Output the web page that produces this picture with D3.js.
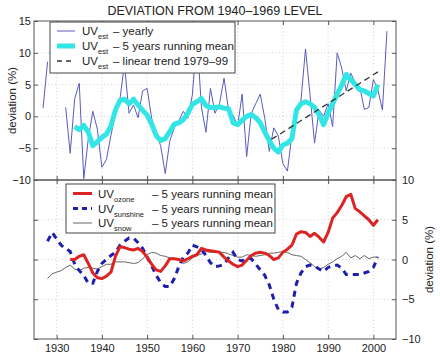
<!DOCTYPE html>
<html>
<head>
<meta charset="utf-8">
<script src="https://cdn.jsdelivr.net/npm/d3@7"></script>
<style>
  body { margin: 0; background: #fff; }
  text { font-family: "Liberation Sans", Arial, sans-serif; fill: #222; }
</style>
</head>
<body>
<div id="chart"></div>
<script>
// x categories
const yearTicks = [1930, 1940, 1950, 1960, 1970, 1980, 1990, 2000];
const topTicks = [-10, -5, 0, 5, 10, 15];
const botTicks = [-10, -5, 0, 5, 10];

// UV_est yearly, 1927..2003 (null = no data)
const yearlyStart = 1927;
const uvYearly = [
  1.3, 8.6, null,
  null, null, 1.4, -5.8, 2.8, 5.2, -9.8, -3.5, 0.8, -2.0,
  -8.0, -6.8, -3.0, 0.5, 2.8, 8.2, 0.5, 1.8, -0.2, 4.0,
  4.4, -0.3, -2.9, -4.6, -9.0, -3.9, -1.8, -0.7, 0.8, -0.3,
  3.4, 12.5, 1.5, -2.5, 4.4, 0.5, 2.0, 6.0, 1.0, 0.2,
  -1.5, 3.5, -6.3, 0.4, 2.0, 3.5, -0.3, -5.5, -1.8, -3.1,
  -7.4, -8.6, -2.9, 0.8, 2.5, 10.6, 3.4, -4.2, 1.0, 0.0,
  2.0, -1.6, 10.0, 7.6, 4.0, 6.8, 5.3, 4.6, 1.1, 1.4,
  5.8, 4.2, 1.0, 13.4
];

// UV_est 5 years running mean, 1934..2001
const meanStart = 1934;
const uvMean = [
  -1.6, -2.1, -1.4, -2.5, -4.6, -4.0,
  -3.3, -2.8, -1.5, 1.0, 2.5, 2.7, 2.0, 2.7, 1.8, 1.0,
  0.2, -1.2, -3.0, -3.8, -3.5, -2.4, -1.2, -1.0, -0.5, 0.5,
  1.9, 2.3, 2.8, 1.7, 1.4, 1.4, 1.5, 1.3, 1.2, -1.0,
  -1.3, -0.6, 0.0, 0.3, -0.2, -1.0, -2.5, -3.8, -5.0, -5.6,
  -4.5, -4.2, -3.5, 1.0, 2.0, 2.3, 2.0, 1.4, 0.3, -1.3,
  0.5, 2.0, 3.5, 4.9, 6.6, 5.8, 5.0, 4.2, 4.0, 3.6,
  3.2, 5.0
];

// linear trend 1979-99 (end points as drawn)
const trendYears = [1977.5, 2001];
const trendValues = [-3.6, 7.0];

// UV_ozone 5 years running mean, 1933..2001
const ozoneStart = 1933;
const uvOzone = [
  0.0, 0.0, 0.4, 0.6, -0.5, -1.7, -2.3,
  -2.4, -2.1, -1.6, 0.4, 1.6, 1.5, 1.3, 1.2, 1.4, 1.0,
  0.3, -0.6, -1.3, -1.5, -0.8, 0.1, 0.1, 0.0, -0.2, 0.1,
  0.4, 0.6, 1.4, 1.2, 1.1, 1.0, 0.9, 0.3, -0.2, -0.6,
  -0.9, -0.7, -0.1, 0.5, 0.8, 0.9, 0.8, 0.5, 0.0, 0.2,
  0.9, 1.3, 1.8, 3.2, 3.5, 3.4, 2.9, 3.3, 2.8, 2.2,
  3.4, 5.2, 5.9, 6.8, 7.9, 8.2, 6.4, 6.0, 5.5, 5.0,
  4.3, 5.0
];

// UV_sunshine 5 years running mean, 1928..2001
const sunStart = 1928;
const uvSunshine = [
  2.3, 3.4,
  2.6, 1.8, 1.4, 1.0, -0.6, -1.4, -2.0, -3.0, -3.0, -1.5,
  -0.5, 0.0, 0.5, 0.9, 1.8, 2.3, 2.7, 2.7, 2.1, 1.4,
  0.3, -0.8, -2.0, -2.9, -3.4, -3.4, -2.4, -0.9, 0.3, 0.8,
  1.8, 1.6, 1.3, 0.5, -0.4, -0.9, -0.8, -0.6, 0.2, 0.9,
  0.0, -0.2, 0.2, 0.1, -0.6, -1.3, -2.0, -3.2, -5.0, -6.3,
  -6.6, -6.6, -6.0, -3.0, -1.7, -0.9, -0.7, -0.8, -1.2, -1.5,
  -1.0, -0.8, -0.7, -1.1, -1.9, -1.9, -1.9, -1.9, -1.7, -1.5,
  -1.0, 0.3
];

// UV_snow 5 years running mean, 1928..2001
const snowStart = 1928;
const uvSnow = [
  -2.4, -1.8,
  -1.6, -1.4, -1.0, -0.7, -1.2, -1.4, -1.1, -1.0, -1.1, -1.2,
  -0.9, -0.6, -0.6, -0.3, -0.3, -0.3, -0.4, -0.5, -0.4, 0.1,
  0.6, 0.9, 0.8, 0.5, 0.4, 0.2, 0.1, -0.1, -0.5, -0.3,
  0.2, 0.5, 0.7, 1.0, 0.9, 0.9, 0.9, 0.9, 0.7, 0.5,
  0.3, 0.3, 0.6, 0.5, 0.4, 0.5, 0.6, 0.8, 0.8, 0.9,
  1.0, 0.9, 0.6, 0.5, 0.4, 0.0, -0.4, -0.9, -1.2, -1.0,
  -0.6, -0.3, 0.1, 0.4, 0.9, 0.2, 0.5, 0.1, 0.5, 0.1,
  0.3, 0.3
];

const W = 440, H = 353;
const left = 34, right = 396, topY = 21, midY = 180, botY = 339;
const axisColor = "#555";

const svg = d3.select("#chart").append("svg")
  .attr("width", W).attr("height", H);

const x = d3.scaleLinear().domain([1925, 2005]).range([left, right]);
const yTop = d3.scaleLinear().domain([-10, 15]).range([midY, topY]);
const yBot = d3.scaleLinear().domain([-10, 10]).range([botY, midY]);

const toPts = (start, arr) => arr.map((v, i) => ({ year: start + i, v: v }));

// clip paths
const defs = svg.append("defs");
defs.append("clipPath").attr("id", "clipTop").append("rect")
  .attr("x", left).attr("y", topY).attr("width", right - left).attr("height", midY - topY);
defs.append("clipPath").attr("id", "clipBot").append("rect")
  .attr("x", left).attr("y", midY).attr("width", right - left).attr("height", botY - midY);

// grid
function grid(yScale, yTicks, y0, y1) {
  const g = svg.append("g").attr("stroke", "#c8c8c8").attr("stroke-dasharray", "1,2.5").attr("stroke-width", 0.8);
  g.selectAll(".gx").data(yearTicks).join("line")
    .attr("x1", d => x(d)).attr("x2", d => x(d)).attr("y1", y0).attr("y2", y1);
  g.selectAll(".gy").data(yTicks.filter(t => yScale(t) > y0 + 1 && yScale(t) < y1 - 1)).join("line")
    .attr("x1", left).attr("x2", right).attr("y1", d => yScale(d)).attr("y2", d => yScale(d));
}
grid(yTop, topTicks, topY, midY);
grid(yBot, botTicks, midY, botY);

// ---------- top panel lines ----------
const lineTop = d3.line().defined(d => d.v !== null).x(d => x(d.year)).y(d => yTop(d.v));
const gTop = svg.append("g").attr("clip-path", "url(#clipTop)");

gTop.append("path").datum(toPts(yearlyStart, uvYearly))
  .attr("d", lineTop).attr("fill", "none").attr("stroke", "#5b5bbd").attr("stroke-width", 1);

gTop.append("path").datum(toPts(meanStart, uvMean))
  .attr("d", lineTop).attr("fill", "none").attr("stroke", "#33e6e6")
  .attr("stroke-width", 5).attr("stroke-linejoin", "round");

gTop.append("path").datum(trendYears.map((yr, i) => ({ year: yr, v: trendValues[i] })))
  .attr("d", lineTop).attr("fill", "none").attr("stroke", "#333")
  .attr("stroke-width", 1.3).attr("stroke-dasharray", "6,4");

// ---------- bottom panel lines ----------
const lineBot = d3.line().x(d => x(d.year)).y(d => yBot(d.v));
const gBot = svg.append("g").attr("clip-path", "url(#clipBot)");

gBot.append("path").datum(toPts(snowStart, uvSnow))
  .attr("d", lineBot).attr("fill", "none").attr("stroke", "#666").attr("stroke-width", 1);

gBot.append("path").datum(toPts(sunStart, uvSunshine))
  .attr("d", lineBot).attr("fill", "none").attr("stroke", "#1f1fae")
  .attr("stroke-width", 3).attr("stroke-dasharray", "6,5");

gBot.append("path").datum(toPts(ozoneStart, uvOzone))
  .attr("d", lineBot).attr("fill", "none").attr("stroke", "#dd2424")
  .attr("stroke-width", 3).attr("stroke-linejoin", "round");

// ---------- axes ----------
function styleAxis(g) {
  g.select(".domain").remove();
  g.selectAll(".tick line").attr("stroke", axisColor);
  g.selectAll(".tick text").attr("font-size", 11).attr("fill", "#222")
    .style("font-family", '"Liberation Sans", Arial, sans-serif');
}
const fmt = d3.format("d");

svg.append("g").attr("transform", `translate(${left},0)`)
  .call(d3.axisLeft(yTop).tickValues(topTicks).tickSize(-4).tickPadding(3).tickFormat(fmt)).call(styleAxis);
svg.append("g").attr("transform", `translate(${right},0)`)
  .call(d3.axisRight(yTop).tickValues(topTicks).tickSize(-4).tickFormat("")).call(styleAxis);
svg.append("g").attr("transform", `translate(0,${topY})`)
  .call(d3.axisTop(x).tickValues(yearTicks).tickSize(-4).tickFormat("")).call(styleAxis);
svg.append("g").attr("transform", `translate(0,${midY})`)
  .call(d3.axisBottom(x).tickValues(yearTicks).tickSize(-4).tickFormat("")).call(styleAxis);

svg.append("g").attr("transform", `translate(${right},0)`)
  .call(d3.axisRight(yBot).tickValues(botTicks).tickSize(-4).tickPadding(6).tickFormat(fmt)).call(styleAxis);
svg.append("g").attr("transform", `translate(${left},0)`)
  .call(d3.axisLeft(yBot).tickValues(botTicks).tickSize(-4).tickFormat("")).call(styleAxis);
svg.append("g").attr("transform", `translate(0,${midY})`)
  .call(d3.axisTop(x).tickValues(yearTicks).tickSize(-4).tickFormat("")).call(styleAxis);
svg.append("g").attr("transform", `translate(0,${botY})`)
  .call(d3.axisBottom(x).tickValues(yearTicks).tickSize(-4).tickPadding(5).tickFormat(fmt)).call(styleAxis);

// panel borders
svg.append("rect").attr("x", left).attr("y", topY).attr("width", right - left).attr("height", midY - topY)
  .attr("fill", "none").attr("stroke", axisColor).attr("stroke-width", 1);
svg.append("rect").attr("x", left).attr("y", midY).attr("width", right - left).attr("height", botY - midY)
  .attr("fill", "none").attr("stroke", axisColor).attr("stroke-width", 1);

// ---------- titles ----------
svg.append("text").attr("x", 215).attr("y", 15).attr("text-anchor", "middle")
  .attr("font-size", 12.5).text("DEVIATION FROM 1940–1969 LEVEL");

svg.append("text").attr("transform", `translate(16,${(topY + midY) / 2}) rotate(-90)`)
  .attr("text-anchor", "middle").attr("font-size", 11.5).text("deviation (%)");
svg.append("text").attr("transform", `translate(433,${(midY + botY) / 2}) rotate(-90)`)
  .attr("text-anchor", "middle").attr("font-size", 11.5).text("deviation (%)");

// ---------- legends ----------
function legend(box, items, uvX, descX, lineX0, lineX1) {
  const g = svg.append("g");
  g.append("rect").attr("x", box.x).attr("y", box.y).attr("width", box.w).attr("height", box.h)
    .attr("fill", "#fff").attr("stroke", "#444").attr("stroke-width", 1);
  items.forEach(it => {
    g.append("line").attr("x1", lineX0).attr("x2", lineX1).attr("y1", it.y - 4).attr("y2", it.y - 4)
      .attr("stroke", it.color).attr("stroke-width", it.width)
      .attr("stroke-dasharray", it.dash || null);
    const t = g.append("text").attr("x", uvX).attr("y", it.y).attr("font-size", 11.5);
    t.append("tspan").text("UV");
    t.append("tspan").attr("dy", 4).attr("font-size", 7.5).text(it.sub);
    g.append("text").attr("x", descX).attr("y", it.y).attr("font-size", 11.5).text(it.desc);
  });
}

legend({ x: 50, y: 22, w: 185, h: 51 }, [
  { y: 35, color: "#5b5bbd", width: 1, sub: "est", desc: "– yearly" },
  { y: 50, color: "#33e6e6", width: 5, sub: "est", desc: "– 5 years running mean" },
  { y: 65, color: "#333", width: 1.3, dash: "5,4", sub: "est", desc: "– linear trend 1979–99" }
], 82, 113, 57, 75);

legend({ x: 66, y: 184, w: 209, h: 49 }, [
  { y: 197.5, color: "#dd2424", width: 3, sub: "ozone", desc: "– 5 years running mean" },
  { y: 212.5, color: "#1f1fae", width: 3, dash: "5,4", sub: "sunshine", desc: "– 5 years running mean" },
  { y: 227, color: "#666", width: 1, sub: "snow", desc: "– 5 years running mean" }
], 98, 152, 73, 92);
</script>
</body>
</html>
